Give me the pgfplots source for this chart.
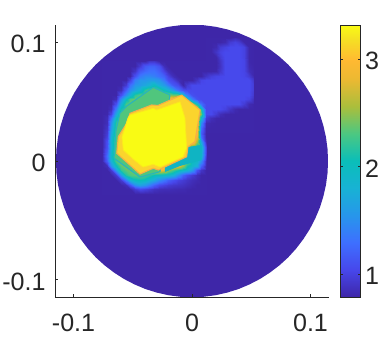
\documentclass[border=0pt]{standalone}
\usepackage{pgfplots}
\pgfplotsset{compat=1.18}
\usepackage{fontspec}
\setmainfont{Liberation Sans}
\definecolor{tk}{RGB}{38,38,38}
\definecolor{base}{RGB}{62,38,168}
\begin{document}
\begin{tikzpicture}
\useasboundingbox (-41.625pt,-31.5pt) rectangle (244.125pt,222.75pt);
\begin{axis}[
  scale only axis, width=204.75pt, height=204pt,
  view={0}{90},
  xmin=-.1152, xmax=.1152, ymin=-.1146, ymax=.1146,
  axis lines*=left,
  axis line style={tk,line width=.5pt,-},
  xtick={-.1,0,.1}, ytick={-.1,0,.1}, ztick=\empty,
  xticklabels={-0.1,0,0.1}, yticklabels={-0.1,0,0.1},
  tick style={tk,line width=.4pt},
  major tick length=2pt,
  tick align=inside,
  tick label style={font=\fontsize{18.8}{20}\selectfont, text=tk},
  xticklabel style={yshift=-9pt},
  yticklabel style={xshift=-4pt,yshift=-1.5pt},
  point meta min=.786, point meta max=3.316,
  colormap={pr}{rgb255(0pt)=(62,38,168) rgb255(10pt)=(71,71,235) rgb255(20pt)=(62,111,255) rgb255(30pt)=(39,150,235) rgb255(40pt)=(24,178,212) rgb255(50pt)=(10,190,185) rgb255(60pt)=(75,200,130) rgb255(70pt)=(170,190,60) rgb255(80pt)=(235,185,50) rgb255(87pt)=(255,185,50) rgb255(95pt)=(245,225,35) rgb255(100pt)=(249,251,20)},
  colorbar,
  colorbar style={
    at={(1.044,1)}, anchor=north west,
    scale only axis, width=15pt, height=204pt,
    ytick={1,2,3}, yticklabels={1,2,3},
    axis line style={tk,line width=.5pt},
    tick style={tk,line width=.4pt},
    major tick length=2pt,
    tick align=inside,
    yticklabel pos=right,
    yticklabel style={yshift=-1.5pt},
    tick label style={font=\fontsize{18.8}{20}\selectfont, text=tk},
  },
]
\addplot3[fill=base,draw=none] coordinates {(.1148,0,0) (.1144,.0100,0) (.1131,.0199,0) (.1109,.0297,0) (.1079,.0393,0) (.1040,.0485,0) (.0994,.0574,0) (.0940,.0658,0) (.0879,.0738,0) (.0812,.0812,0) (.0738,.0879,0) (.0658,.0940,0) (.0574,.0994,0) (.0485,.1040,0) (.0393,.1079,0) (.0297,.1109,0) (.0199,.1131,0) (.0100,.1144,0) (0,.1148,0) (-.0100,.1144,0) (-.0199,.1131,0) (-.0297,.1109,0) (-.0393,.1079,0) (-.0485,.1040,0) (-.0574,.0994,0) (-.0658,.0940,0) (-.0738,.0879,0) (-.0812,.0812,0) (-.0879,.0738,0) (-.0940,.0658,0) (-.0994,.0574,0) (-.1040,.0485,0) (-.1079,.0393,0) (-.1109,.0297,0) (-.1131,.0199,0) (-.1144,.0100,0) (-.1148,0,0) (-.1144,-.0100,0) (-.1131,-.0199,0) (-.1109,-.0297,0) (-.1079,-.0393,0) (-.1040,-.0485,0) (-.0994,-.0574,0) (-.0940,-.0658,0) (-.0879,-.0738,0) (-.0812,-.0812,0) (-.0738,-.0879,0) (-.0658,-.0940,0) (-.0574,-.0994,0) (-.0485,-.1040,0) (-.0393,-.1079,0) (-.0297,-.1109,0) (-.0199,-.1131,0) (-.0100,-.1144,0) (0,-.1148,0) (.0100,-.1144,0) (.0199,-.1131,0) (.0297,-.1109,0) (.0393,-.1079,0) (.0485,-.1040,0) (.0574,-.0994,0) (.0658,-.0940,0) (.0738,-.0879,0) (.0812,-.0812,0) (.0879,-.0738,0) (.0940,-.0658,0) (.0994,-.0574,0) (.1040,-.0485,0) (.1079,-.0393,0) (.1109,-.0297,0) (.1131,-.0199,0) (.1144,-.0100,0)} --cycle;
\addplot3[surf,shader=interp,mesh/cols=23,point meta=z] table[header=false,x index=0,y index=1,z index=2] {
-.076 .084 .79
-.072 .084 .79
-.068 .084 .79
-.064 .084 .79
-.06 .084 .79
-.056 .084 .79
-.052 .084 .79
-.048 .084 .79
-.044 .084 .79
-.04 .084 .79
-.036 .084 .9
-.032 .084 .9
-.028 .084 .8
-.024 .084 .79
-.02 .084 .79
-.016 .084 .79
-.012 .084 .79
-.008 .084 .79
-.004 .084 .79
0 .084 .79
.004 .084 .79
.008 .084 .79
.012 .084 .79
-.076 .08 .79
-.072 .08 .79
-.068 .08 .79
-.064 .08 .79
-.06 .08 .79
-.056 .08 .79
-.052 .08 .79
-.048 .08 .79
-.044 .08 .95
-.04 .08 1.15
-.036 .08 1.2
-.032 .08 1.2
-.028 .08 1.1
-.024 .08 .85
-.02 .08 .79
-.016 .08 .79
-.012 .08 .79
-.008 .08 .79
-.004 .08 .79
0 .08 .79
.004 .08 .79
.008 .08 .79
.012 .08 .79
-.076 .076 .79
-.072 .076 .79
-.068 .076 .79
-.064 .076 .79
-.06 .076 .79
-.056 .076 .79
-.052 .076 .79
-.048 .076 .9
-.044 .076 1.15
-.04 .076 1.25
-.036 .076 1.3
-.032 .076 1.3
-.028 .076 1.2
-.024 .076 1
-.02 .076 .85
-.016 .076 .79
-.012 .076 .79
-.008 .076 .79
-.004 .076 .79
0 .076 .79
.004 .076 .79
.008 .076 .79
.012 .076 .79
-.076 .072 .79
-.072 .072 .79
-.068 .072 .79
-.064 .072 .79
-.06 .072 .79
-.056 .072 .79
-.052 .072 .79
-.048 .072 1.1
-.044 .072 1.35
-.04 .072 1.45
-.036 .072 1.45
-.032 .072 1.4
-.028 .072 1.3
-.024 .072 1.2
-.02 .072 1
-.016 .072 .85
-.012 .072 .79
-.008 .072 .79
-.004 .072 .79
0 .072 .79
.004 .072 .79
.008 .072 .79
.012 .072 .9
-.076 .068 .79
-.072 .068 .79
-.068 .068 .79
-.064 .068 .79
-.06 .068 .79
-.056 .068 .79
-.052 .068 1
-.048 .068 1.4
-.044 .068 1.55
-.04 .068 1.55
-.036 .068 1.6
-.032 .068 1.6
-.028 .068 1.55
-.024 .068 1.35
-.02 .068 1.1
-.016 .068 1
-.012 .068 .85
-.008 .068 .79
-.004 .068 .79
0 .068 .79
.004 .068 .9
.008 .068 1.02
.012 .068 1.05
-.076 .064 .79
-.072 .064 .79
-.068 .064 .79
-.064 .064 .79
-.06 .064 .79
-.056 .064 .95
-.052 .064 1.3
-.048 .064 1.55
-.044 .064 1.6
-.04 .064 1.7
-.036 .064 1.8
-.032 .064 2
-.028 .064 1.75
-.024 .064 1.6
-.02 .064 1.4
-.016 .064 1.15
-.012 .064 1.05
-.008 .064 .8
-.004 .064 .95
0 .064 1.05
.004 .064 1.05
.008 .064 1.05
.012 .064 1.05
-.076 .06 .79
-.072 .06 .79
-.068 .06 .79
-.064 .06 .79
-.06 .06 .85
-.056 .06 1.2
-.052 .06 1.5
-.048 .06 1.7
-.044 .06 1.85
-.04 .06 2.2
-.036 .06 2.35
-.032 .06 2.4
-.028 .06 2.3
-.024 .06 2
-.02 .06 1.85
-.016 .06 1.6
-.012 .06 1.3
-.008 .06 1.1
-.004 .06 1.05
0 .06 1.05
.004 .06 1.05
.008 .06 1.05
.012 .06 1.05
-.076 .056 .79
-.072 .056 .79
-.068 .056 .79
-.064 .056 .79
-.06 .056 1.1
-.056 .056 1.5
-.052 .056 1.8
-.048 .056 2.2
-.044 .056 2.35
-.04 .056 2.4
-.036 .056 2.45
-.032 .056 2.5
-.028 .056 2.45
-.024 .056 2.5
-.02 .056 2.5
-.016 .056 2.4
-.012 .056 2.4
-.008 .056 1.9
-.004 .056 1.4
0 .056 1.1
.004 .056 1.05
.008 .056 1.05
.012 .056 1.05
-.076 .052 .79
-.072 .052 .79
-.068 .052 .79
-.064 .052 .85
-.06 .052 1.5
-.056 .052 2
-.052 .052 2.3
-.048 .052 2.4
-.044 .052 2.4
-.04 .052 2.45
-.036 .052 2.5
-.032 .052 2.55
-.028 .052 2.6
-.024 .052 2.8
-.02 .052 2.95
-.016 .052 3
-.012 .052 3.05
-.008 .052 2.7
-.004 .052 2
0 .052 1.4
.004 .052 1.1
.008 .052 1.05
.012 .052 1.05
-.076 .048 .79
-.072 .048 .79
-.068 .048 .8
-.064 .048 1.1
-.06 .048 1.8
-.056 .048 2.3
-.052 .048 2.4
-.048 .048 2.45
-.044 .048 2.6
-.04 .048 2.8
-.036 .048 3
-.032 .048 3.1
-.028 .048 3
-.024 .048 3.05
-.02 .048 3.1
-.016 .048 3.1
-.012 .048 3.15
-.008 .048 3.1
-.004 .048 3.05
0 .048 2.7
.004 .048 2
.008 .048 1.3
.012 .048 1.05
-.076 .044 .79
-.072 .044 .79
-.068 .044 .85
-.064 .044 1.4
-.06 .044 2.1
-.056 .044 2.35
-.052 .044 2.6
-.048 .044 3
-.044 .044 3.2
-.04 .044 3.3
-.036 .044 3.32
-.032 .044 3.32
-.028 .044 3.32
-.024 .044 3.3
-.02 .044 3.3
-.016 .044 3.3
-.012 .044 3.25
-.008 .044 3.15
-.004 .044 3.15
0 .044 3.1
.004 .044 3
.008 .044 2.1
.012 .044 1.05
-.076 .04 .79
-.072 .04 .8
-.068 .04 1
-.064 .04 1.7
-.06 .04 2.3
-.056 .04 2.5
-.052 .04 3
-.048 .04 3.25
-.044 .04 3.32
-.04 .04 3.32
-.036 .04 3.32
-.032 .04 3.32
-.028 .04 3.32
-.024 .04 3.32
-.02 .04 3.32
-.016 .04 3.32
-.012 .04 3.32
-.008 .04 3.25
-.004 .04 3.15
0 .04 3.15
.004 .04 3.1
.008 .04 2.4
.012 .04 1.05
-.076 .036 .79
-.072 .036 .85
-.068 .036 1.3
-.064 .036 2
-.06 .036 2.35
-.056 .036 2.8
-.052 .036 3.2
-.048 .036 3.32
-.044 .036 3.32
-.04 .036 3.32
-.036 .036 3.32
-.032 .036 3.32
-.028 .036 3.32
-.024 .036 3.32
-.02 .036 3.32
-.016 .036 3.32
-.012 .036 3.32
-.008 .036 3.3
-.004 .036 3.2
0 .036 3.15
.004 .036 3.1
.008 .036 1.9
.012 .036 .95
-.076 .032 .79
-.072 .032 .85
-.068 .032 1.5
-.064 .032 2.2
-.06 .032 2.35
-.056 .032 3
-.052 .032 3.3
-.048 .032 3.32
-.044 .032 3.32
-.04 .032 3.32
-.036 .032 3.32
-.032 .032 3.32
-.028 .032 3.32
-.024 .032 3.32
-.02 .032 3.32
-.016 .032 3.32
-.012 .032 3.32
-.008 .032 3.32
-.004 .032 3.25
0 .032 3.15
.004 .032 3.1
.008 .032 1.5
.012 .032 .82
-.076 .028 .79
-.072 .028 .9
-.068 .028 1.6
-.064 .028 2.25
-.06 .028 2.5
-.056 .028 3.1
-.052 .028 3.32
-.048 .028 3.32
-.044 .028 3.32
-.04 .028 3.32
-.036 .028 3.32
-.032 .028 3.32
-.028 .028 3.32
-.024 .028 3.32
-.02 .028 3.32
-.016 .028 3.32
-.012 .028 3.32
-.008 .028 3.32
-.004 .028 3.3
0 .028 3.2
.004 .028 3.05
.008 .028 1.3
.012 .028 .8
-.076 .024 .79
-.072 .024 .95
-.068 .024 1.7
-.064 .024 2.3
-.06 .024 2.9
-.056 .024 3.2
-.052 .024 3.32
-.048 .024 3.32
-.044 .024 3.32
-.04 .024 3.32
-.036 .024 3.32
-.032 .024 3.32
-.028 .024 3.32
-.024 .024 3.32
-.02 .024 3.32
-.016 .024 3.32
-.012 .024 3.32
-.008 .024 3.32
-.004 .024 3.32
0 .024 3.25
.004 .024 2.95
.008 .024 1.2
.012 .024 .79
-.076 .02 .79
-.072 .02 1
-.068 .02 1.8
-.064 .02 2.35
-.06 .02 3
-.056 .02 3.3
-.052 .02 3.32
-.048 .02 3.32
-.044 .02 3.32
-.04 .02 3.32
-.036 .02 3.32
-.032 .02 3.32
-.028 .02 3.32
-.024 .02 3.32
-.02 .02 3.32
-.016 .02 3.32
-.012 .02 3.32
-.008 .02 3.32
-.004 .02 3.32
0 .02 3.3
.004 .02 2.8
.008 .02 1.3
.012 .02 .79
-.076 .016 .79
-.072 .016 1.1
-.068 .016 1.85
-.064 .016 2.4
-.06 .016 3.05
-.056 .016 3.32
-.052 .016 3.32
-.048 .016 3.32
-.044 .016 3.32
-.04 .016 3.32
-.036 .016 3.32
-.032 .016 3.32
-.028 .016 3.32
-.024 .016 3.32
-.02 .016 3.32
-.016 .016 3.32
-.012 .016 3.32
-.008 .016 3.32
-.004 .016 3.32
0 .016 3.2
.004 .016 2.5
.008 .016 1.7
.012 .016 .85
-.076 .012 .79
-.072 .012 1.1
-.068 .012 1.8
-.064 .012 2.35
-.06 .012 3
-.056 .012 3.3
-.052 .012 3.32
-.048 .012 3.32
-.044 .012 3.32
-.04 .012 3.32
-.036 .012 3.32
-.032 .012 3.32
-.028 .012 3.32
-.024 .012 3.32
-.02 .012 3.32
-.016 .012 3.32
-.012 .012 3.32
-.008 .012 3.32
-.004 .012 3
0 .012 2.2
.004 .012 2
.008 .012 1.95
.012 .012 1
-.076 .008 .79
-.072 .008 1.2
-.068 .008 1.85
-.064 .008 2.5
-.06 .008 3
-.056 .008 3.25
-.052 .008 3.32
-.048 .008 3.32
-.044 .008 3.32
-.04 .008 3.32
-.036 .008 3.32
-.032 .008 3.32
-.028 .008 3.32
-.024 .008 3.32
-.02 .008 3.32
-.016 .008 3.32
-.012 .008 3.32
-.008 .008 3.1
-.004 .008 2.3
0 .008 2
.004 .008 1.95
.008 .008 1.9
.012 .008 1
-.076 .004 .8
-.072 .004 1.3
-.068 .004 1.9
-.064 .004 2.4
-.06 .004 2.8
-.056 .004 3.05
-.052 .004 3.25
-.048 .004 3.32
-.044 .004 3.32
-.04 .004 3.32
-.036 .004 3.32
-.032 .004 3.32
-.028 .004 3.32
-.024 .004 3.32
-.02 .004 3.32
-.016 .004 3.32
-.012 .004 3.3
-.008 .004 3
-.004 .004 2.4
0 .004 2
.004 .004 1.95
.008 .004 1.85
.012 .004 .95
-.076 0 .8
-.072 0 1.2
-.068 0 1.8
-.064 0 2.3
-.06 0 2.5
-.056 0 2.95
-.052 0 3.1
-.048 0 3.3
-.044 0 3.32
-.04 0 3.32
-.036 0 3.32
-.032 0 3.32
-.028 0 3.32
-.024 0 3.32
-.02 0 3.32
-.016 0 3.3
-.012 0 3.15
-.008 0 2.9
-.004 0 2.4
0 0 2
.004 0 1.9
.008 0 1.5
.012 0 .85
-.076 -.004 .79
-.072 -.004 .85
-.068 -.004 1.5
-.064 -.004 2
-.06 -.004 2.35
-.056 -.004 2.45
-.052 -.004 2.9
-.048 -.004 3.1
-.044 -.004 3.3
-.04 -.004 3.32
-.036 -.004 3.3
-.032 -.004 3.25
-.028 -.004 3.32
-.024 -.004 3.25
-.02 -.004 3.1
-.016 -.004 3
-.012 -.004 2.85
-.008 -.004 2.5
-.004 -.004 2.1
0 -.004 1.9
.004 -.004 1.75
.008 -.004 1.2
.012 -.004 .82
-.076 -.008 .79
-.072 -.008 .79
-.068 -.008 .95
-.064 -.008 1.6
-.06 -.008 2.2
-.056 -.008 2.35
-.052 -.008 2.4
-.048 -.008 2.8
-.044 -.008 3
-.04 -.008 3
-.036 -.008 3
-.032 -.008 2.9
-.028 -.008 2.9
-.024 -.008 2.8
-.02 -.008 2.5
-.016 -.008 2.3
-.012 -.008 2.1
-.008 -.008 1.95
-.004 -.008 1.85
0 -.008 1.6
.004 -.008 1.1
.008 -.008 .9
.012 -.008 .79
-.076 -.012 .79
-.072 -.012 .79
-.068 -.012 .79
-.064 -.012 .95
-.06 -.012 1.6
-.056 -.012 2.15
-.052 -.012 2.3
-.048 -.012 2.35
-.044 -.012 2.4
-.04 -.012 2.3
-.036 -.012 2.2
-.032 -.012 2.05
-.028 -.012 2
-.024 -.012 1.95
-.02 -.012 1.9
-.016 -.012 1.8
-.012 -.012 1.5
-.008 -.012 1.2
-.004 -.012 1.05
0 -.012 .95
.004 -.012 .85
.008 -.012 .79
.012 -.012 .79
-.076 -.016 .79
-.072 -.016 .79
-.068 -.016 .79
-.064 -.016 .79
-.06 -.016 .95
-.056 -.016 1.4
-.052 -.016 1.8
-.048 -.016 2
-.044 -.016 2.05
-.04 -.016 2
-.036 -.016 1.85
-.032 -.016 1.7
-.028 -.016 1.5
-.024 -.016 1.35
-.02 -.016 1.2
-.016 -.016 1.1
-.012 -.016 1
-.008 -.016 .95
-.004 -.016 .9
0 -.016 .85
.004 -.016 .82
.008 -.016 .79
.012 -.016 .79
-.076 -.02 .79
-.072 -.02 .79
-.068 -.02 .79
-.064 -.02 .79
-.06 -.02 .79
-.056 -.02 .85
-.052 -.02 1.1
-.048 -.02 1.5
-.044 -.02 1.65
-.04 -.02 1.55
-.036 -.02 1.4
-.032 -.02 1.2
-.028 -.02 1.05
-.024 -.02 1
-.02 -.02 .95
-.016 -.02 .92
-.012 -.02 .9
-.008 -.02 .88
-.004 -.02 .85
0 -.02 .82
.004 -.02 .79
.008 -.02 .79
.012 -.02 .79
-.076 -.024 .79
-.072 -.024 .79
-.068 -.024 .79
-.064 -.024 .79
-.06 -.024 .79
-.056 -.024 .79
-.052 -.024 .8
-.048 -.024 .95
-.044 -.024 1.05
-.04 -.024 1
-.036 -.024 .95
-.032 -.024 .88
-.028 -.024 .85
-.024 -.024 .84
-.02 -.024 .84
-.016 -.024 .83
-.012 -.024 .82
-.008 -.024 .82
-.004 -.024 .8
0 -.024 .79
.004 -.024 .79
.008 -.024 .79
.012 -.024 .79
-.076 -.028 .79
-.072 -.028 .79
-.068 -.028 .79
-.064 -.028 .79
-.06 -.028 .79
-.056 -.028 .79
-.052 -.028 .79
-.048 -.028 .79
-.044 -.028 .79
-.04 -.028 .79
-.036 -.028 .79
-.032 -.028 .79
-.028 -.028 .79
-.024 -.028 .79
-.02 -.028 .79
-.016 -.028 .79
-.012 -.028 .79
-.008 -.028 .79
-.004 -.028 .79
0 -.028 .79
.004 -.028 .79
.008 -.028 .79
.012 -.028 .79
};
\addplot3[surf,shader=interp,mesh/cols=11,point meta=z] table[header=false,x index=0,y index=1,z index=2] {
.012 .104 .79
.016 .104 .79
.02 .104 .79
.024 .104 .79
.028 .104 .79
.032 .104 .79
.036 .104 .85
.04 .104 .8
.044 .104 .79
.048 .104 .79
.052 .1 .79
.012 .1 .79
.016 .1 .79
.02 .1 .79
.024 .1 .79
.028 .1 .82
.032 .1 .95
.036 .1 1
.04 .1 .95
.044 .1 .8
.048 .1 .79
.052 .097 .79
.012 .096 .79
.016 .096 .79
.02 .096 .82
.024 .096 .95
.028 .096 1
.032 .096 1.05
.036 .096 1.05
.04 .096 1.05
.044 .096 1
.048 .096 .8
.052 .096 .79
.012 .092 .79
.016 .092 .79
.02 .092 .9
.024 .092 1
.028 .092 1.05
.032 .092 1.05
.036 .092 1.05
.04 .092 1.05
.044 .092 1
.048 .092 .8
.052 .092 .79
.012 .088 .79
.016 .088 .79
.02 .088 .8
.024 .088 .95
.028 .088 1.05
.032 .088 1.05
.036 .088 1.05
.04 .088 1.05
.044 .088 1
.048 .088 .8
.052 .088 .79
.012 .084 .79
.016 .084 .79
.02 .084 .79
.024 .084 .9
.028 .084 1.05
.032 .084 1.05
.036 .084 1.05
.04 .084 1.05
.044 .084 1.02
.048 .084 .8
.052 .084 .79
.012 .08 .79
.016 .08 .79
.02 .08 .79
.024 .08 .88
.028 .08 1.05
.032 .08 1.05
.036 .08 1.05
.04 .08 1.05
.044 .08 1.02
.048 .08 .82
.052 .08 .79
.012 .076 .79
.016 .076 .79
.02 .076 .8
.024 .076 .92
.028 .076 1.05
.032 .076 1.05
.036 .076 1.05
.04 .076 1.05
.044 .076 1.02
.048 .076 .85
.052 .076 .8
.012 .072 .9
.016 .072 .98
.02 .072 1.02
.024 .072 1.03
.028 .072 1.05
.032 .072 1.05
.036 .072 1.05
.04 .072 1.05
.044 .072 1.03
.048 .072 .95
.052 .072 .8
.012 .068 1.05
.016 .068 1.05
.02 .068 1.05
.024 .068 1.05
.028 .068 1.05
.032 .068 1.05
.036 .068 1.05
.04 .068 1.05
.044 .068 1.05
.048 .068 1.05
.052 .068 .9
.012 .064 1.05
.016 .064 1.05
.02 .064 1.05
.024 .064 1.05
.028 .064 1.05
.032 .064 1.05
.036 .064 1.05
.04 .064 1.05
.044 .064 1.05
.048 .064 1.05
.052 .064 .95
.012 .06 1.05
.016 .06 1.05
.02 .06 1.05
.024 .06 1.05
.028 .06 1.05
.032 .06 1.05
.036 .06 1.05
.04 .06 1.05
.044 .06 1.05
.048 .06 1.05
.052 .06 .95
.012 .056 1.05
.016 .056 1.05
.02 .056 1.05
.024 .056 1.05
.028 .056 1.05
.032 .056 1.05
.036 .056 1.05
.04 .056 1.05
.044 .056 1.05
.048 .056 1.05
.052 .056 .92
.012 .052 1.05
.016 .052 1.05
.02 .052 1.05
.024 .052 1.05
.028 .052 1.05
.032 .052 1.05
.036 .052 1.05
.04 .052 1.05
.044 .052 1.05
.048 .052 1
.052 .052 .85
.012 .048 1.05
.016 .048 1.05
.02 .048 1.05
.024 .048 1.05
.028 .048 1.05
.032 .048 1.05
.036 .048 1.05
.04 .048 1.05
.044 .048 .95
.048 .048 .82
.052 .048 .79
.012 .044 1.05
.016 .044 1.05
.02 .044 1.05
.024 .044 1.05
.028 .044 1
.032 .044 .9
.036 .044 .82
.04 .044 .79
.044 .044 .79
.048 .044 .79
.052 .044 .79
.012 .04 1.05
.016 .04 1.05
.02 .04 .95
.024 .04 .85
.028 .04 .8
.032 .04 .79
.036 .04 .79
.04 .04 .79
.044 .04 .79
.048 .04 .79
.052 .04 .79
.012 .036 .95
.016 .036 .85
.02 .036 .8
.024 .036 .79
.028 .036 .79
.032 .036 .79
.036 .036 .79
.04 .036 .79
.044 .036 .79
.048 .036 .79
.052 .036 .79
.012 .032 .82
.016 .032 .8
.02 .032 .79
.024 .032 .79
.028 .032 .79
.032 .032 .79
.036 .032 .79
.04 .032 .79
.044 .032 .79
.048 .032 .79
.052 .032 .79
.012 .028 .8
.016 .028 .79
.02 .028 .79
.024 .028 .79
.028 .028 .79
.032 .028 .79
.036 .028 .79
.04 .028 .79
.044 .028 .79
.048 .028 .79
.052 .028 .79
.012 .024 .79
.016 .024 .79
.02 .024 .79
.024 .024 .79
.028 .024 .79
.032 .024 .79
.036 .024 .79
.04 .024 .79
.044 .024 .79
.048 .024 .79
.052 .024 .79
};
% sharper contour bands of the plateau: green, teal, gold, yellow
\addplot3[fill={rgb,255:red,80;green,198;blue,125},draw={rgb,255:red,40;green,180;blue,190},line width=.8pt,line join=round] coordinates {(-.0608,.0402,0) (-.0551,.0463,0) (-.0327,.0621,0) (-.0186,.0556,0) (-.0270,-.0090,0) (-.0439,-.0135,0) (-.0658,.0023,0) (-.0641,.0261,0)} --cycle;
\addplot3[fill={rgb,255:red,15;green,180;blue,195},draw=none] coordinates {(-.0034,.0118,0) (.0082,.0135,0) (.0082,.0008,0) (-.0101,-.0042,0) (-.0228,-.0093,0) (-.0228,.0050,0)} --cycle;
\addplot3[fill={rgb,255:red,251;green,212;blue,45},draw={rgb,255:red,245;green,175;blue,70},line width=.8pt,line join=round] coordinates {(-.0551,.0318,0) (-.0523,.0402,0) (-.0340,.0472,0) (-.0287,.0468,0) (-.0087,.0556,0) (.0068,.0430,0) (.0025,.0163,0) (-.0034,.0120,0) (-.0045,.0036,0) (-.0284,-.0076,0) (-.0327,-.0061,0) (-.0439,-.0110,0) (-.0635,.0065,0) (-.0622,.0205,0)} --cycle;
\addplot3[fill={rgb,255:red,249;green,251;blue,20},draw={rgb,255:red,252;green,232;blue,30},line width=.6pt,line join=round] coordinates {(-.0523,.0388,0) (-.0327,.0444,0) (-.0298,.0430,0) (-.0101,.0499,0) (-.0059,.0362,0) (-.0045,.0110,0) (-.0076,.0034,0) (-.0270,-.0051,0) (-.0327,-.0028,0) (-.0414,-.0051,0) (-.0498,.0017,0) (-.0580,.0093,0) (-.0591,.0202,0) (-.0540,.0362,0)} --cycle;
\end{axis}
\end{tikzpicture}
\end{document}
